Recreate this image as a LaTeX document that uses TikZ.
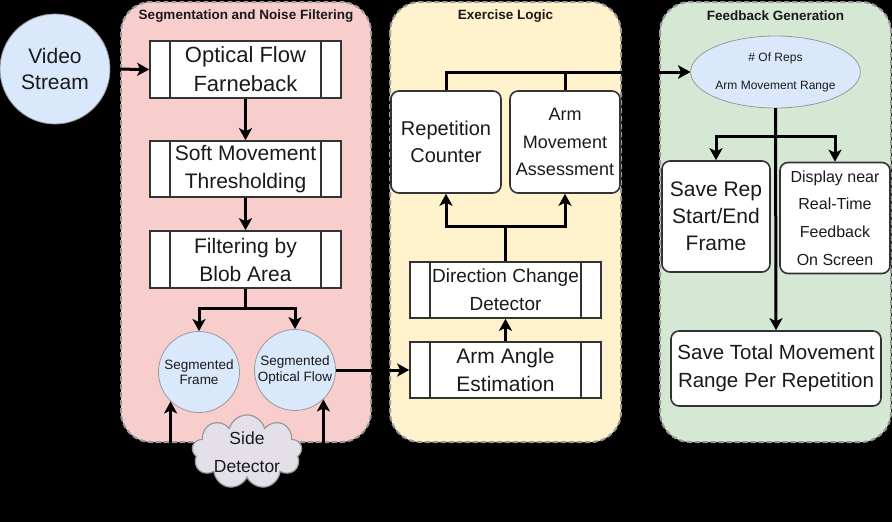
\documentclass[tikz,border=0pt]{standalone}
\usepackage{fontspec}
\setmainfont{Liberation Sans}
\usepackage{xcolor}
\usepackage{tikz}
\usetikzlibrary{positioning,calc,shapes.symbols,shapes.geometric,arrows.meta}
\definecolor{LaneRed}{HTML}{F8CECC}
\definecolor{LaneYellow}{HTML}{FFF2CC}
\definecolor{LaneGreen}{HTML}{D5E8D4}
\definecolor{DataBlue}{HTML}{DAE8FC}
\definecolor{CloudGray}{HTML}{E4E0EA}
\definecolor{EdgeGray}{HTML}{999999}
\definecolor{InkGray}{HTML}{1A1A1A}
\tikzset{
    lane/.style={draw=EdgeGray, line width=2pt, dash pattern=on 5pt off 3pt, rounded corners=30pt},
    lanetitle/.style={font=\bfseries\fontsize{13.5}{15}\selectfont, text=InkGray},
    procbox/.style={rectangle, draw=black!80, fill=white, line width=1.6pt, inner sep=0pt, align=center, text=InkGray,
        minimum width=191pt, minimum height=56pt,
        path picture={
            \draw[black!80, line width=1.6pt] ([xshift=20pt]path picture bounding box.north west) -- ([xshift=20pt]path picture bounding box.south west);
            \draw[black!80, line width=1.6pt] ([xshift=-20pt]path picture bounding box.north east) -- ([xshift=-20pt]path picture bounding box.south east);
        }},
    stepbox/.style={rectangle, rounded corners=8pt, draw=black!80, fill=white, line width=1.6pt, inner sep=0pt, align=center, text=InkGray}
}

\begin{document}
\begin{tikzpicture}[
        x=1pt, y=-1pt,
        % --- DATA NODES (light blue) ---
        datanode/.style={circle, draw=EdgeGray, fill=DataBlue, line width=0.8pt, inner sep=0pt, align=center, text=InkGray},
        % --- ARROWS ---
        flow/.style={draw=black, line width=3pt, -{Stealth[length=12pt, width=13pt, inset=3pt]}}
    ]
    \useasboundingbox (0,0) rectangle (892,522);
    \fill[black] (0,0) rectangle (892,522);

    % --- LANES ---
    \draw[lane, fill=LaneRed] (121,2) rectangle (371,442);
    \draw[lane, fill=LaneYellow] (390,2) rectangle (621,442);
    \draw[lane, fill=LaneGreen] (660,2) rectangle (891,442);
    \node[lanetitle] (segtitle) at (246,16) {Segmentation and Noise Filtering};
    \node[lanetitle] (extitle) at (505.5,16) {Exercise Logic};
    \node[lanetitle] (fbtitle) at (775.5,16) {Feedback Generation};

    % --- INPUT ---
    \node[datanode, minimum size=110pt, font=\fontsize{21}{26}\selectfont] (video) at (55,69) {Video\\Stream};

    % --- SEGMENTATION AND NOISE FILTERING ---
    \node[procbox, minimum height=57pt, font=\fontsize{22}{29}\selectfont] (farneback) at (245.5,69.5) {Optical Flow\\Farneback};
    \node[procbox, font=\fontsize{21}{28}\selectfont] (softthresh) at (245.5,169) {Soft Movement\\Thresholding};
    \node[procbox, minimum height=57pt, font=\fontsize{21}{28}\selectfont] (blobfilter) at (245.5,259.5) {Filtering by\\Blob Area};
    \node[datanode, minimum size=81pt, font=\fontsize{13.5}{15.5}\selectfont] (segframe) at (199,372) {Segmented\\Frame};
    \node[datanode, minimum size=81pt, font=\fontsize{13.5}{15.5}\selectfont] (segflow) at (295,370) {Segmented\\Optical Flow};
    \node[cloud, cloud puffs=9, aspect=1.7, draw=EdgeGray, fill=CloudGray, line width=1.2pt, minimum width=110pt, minimum height=70pt,
        inner sep=-1.5pt, align=center, text=InkGray, font=\fontsize{17.5}{28}\selectfont] (side) at (247,452) {Side\\Detector};

    % --- EXERCISE LOGIC ---
    \node[procbox, font=\fontsize{21}{28}\selectfont] (armangle) at (505.5,370) {Arm Angle\\Estimation};
    \node[procbox, font=\fontsize{19}{28}\selectfont] (dirchange) at (505.5,290) {Direction Change\\Detector};
    \node[stepbox, minimum width=110pt, minimum height=102pt, font=\fontsize{20}{27}\selectfont] (repcount) at (446,142) {Repetition\\Counter};
    \node[stepbox, minimum width=110pt, minimum height=102pt, font=\fontsize{18}{27.5}\selectfont] (armassess) at (565,142) {Arm\\Movement\\Assessment};

    % --- FEEDBACK GENERATION ---
    \node[ellipse, draw=EdgeGray, fill=DataBlue, line width=0.8pt, minimum width=165pt, minimum height=72pt, inner sep=0pt,
        align=center, text=InkGray, font=\fontsize{12}{28}\selectfont] (metrics) at (775.5,72) {\# Of Reps\\Arm Movement Range};
    \node[stepbox, minimum width=108pt, minimum height=111pt, font=\fontsize{21}{27}\selectfont] (saverep) at (716,216.5) {Save Rep\\Start/End\\Frame};
    \node[stepbox, minimum width=110pt, minimum height=111pt, font=\fontsize{16}{27.7}\selectfont] (display) at (835,218) {Display near\\Real-Time\\Feedback\\On Screen};
    \node[stepbox, minimum width=210pt, minimum height=75pt, font=\fontsize{20.5}{28}\selectfont] (savetotal) at (776,368.5) {Save Total Movement\\Range Per Repetition};

    % --- CONNECTORS ---
    \draw[flow] (video.east) -- (farneback.west);
    \draw[flow] (farneback) -- (softthresh);
    \draw[flow] (softthresh) -- (blobfilter);
    \draw[flow] (blobfilter.south) -- ++(0,20) -| (segframe.north);
    \draw[flow] (blobfilter.south) -- ++(0,20) -| (segflow.north);
    \draw[flow] (side.west) -| (segframe.226);
    \draw[flow] (side.east) -| (segflow.314);
    \draw[flow] (segflow.east) -- (armangle.west);
    \draw[flow] (armangle) -- (dirchange);
    \draw[flow] (dirchange.north) -- ++(0,-35) -| (repcount.south);
    \draw[flow] (dirchange.north) -- ++(0,-35) -| (armassess.south);
    \draw[flow] (repcount.north) |- (metrics.west);
    \draw[flow] (armassess.north) |- (metrics.west);
    \draw[flow] (metrics.south) -- ++(0,28) -| (saverep.north);
    \draw[flow] (metrics.south) -- ++(0,28) -| (display.north);
    \draw[flow] (metrics.south) -- (savetotal.north);

\end{tikzpicture}
\end{document}
